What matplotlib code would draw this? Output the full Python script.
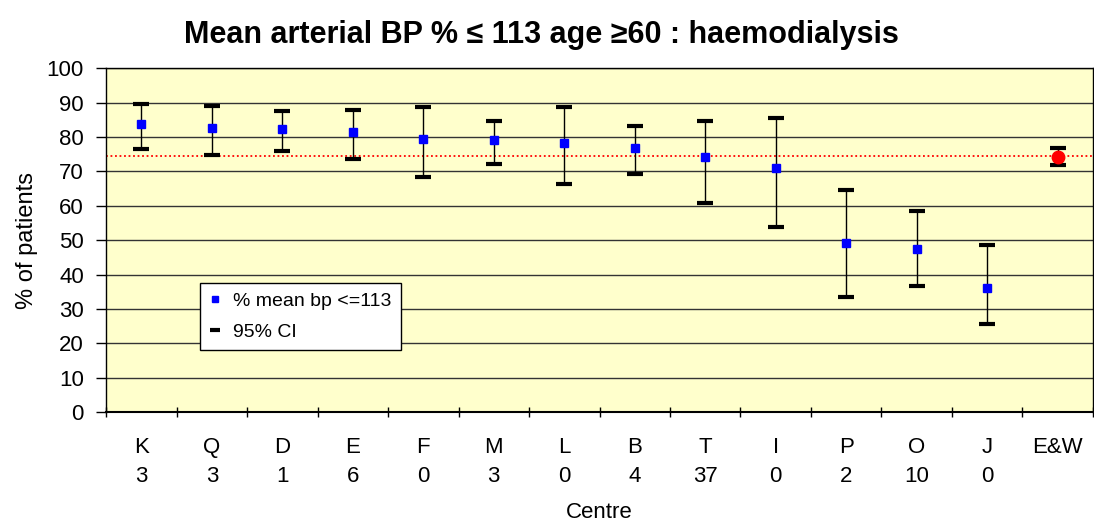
import matplotlib
matplotlib.use("Agg")
import matplotlib.pyplot as plt
from matplotlib.lines import Line2D
import numpy as np

plt.rcParams['font.family'] = ['Liberation Sans', 'DejaVu Sans']

centres = ["K", "Q", "D", "E", "F", "M", "L", "B", "T", "I", "P", "O", "J"]
counts = ["3", "3", "1", "6", "0", "3", "0", "4", "37", "0", "2", "10", "0"]
pct = [83.7, 82.6, 82.2, 81.6, 79.5, 79.0, 78.4, 76.8, 74.1, 70.9, 49.1, 47.5, 36.2]
upper = [89.7, 89.1, 87.5, 88.0, 88.6, 84.8, 88.6, 83.2, 84.8, 85.4, 64.5, 58.6, 48.5]
lower = [76.4, 74.7, 75.8, 73.6, 68.3, 72.1, 66.2, 69.3, 60.8, 53.9, 33.5, 36.7, 25.6]
ew_label = "E&W"
ew_pct = 74.1
ew_upper = 76.7
ew_lower = 72.0
ew_line = 74.4

fig = plt.figure(figsize=(10.94, 5.25), dpi=100)
ax = fig.add_axes([0.097, 0.215, 0.902, 0.655])
ax.set_facecolor("#FFFFCC")

x = np.arange(len(centres))
pct_a = np.array(pct)
yerr = [pct_a - np.array(lower), np.array(upper) - pct_a]
ax.errorbar(x, pct, yerr=yerr, fmt='none', ecolor='black', elinewidth=1.0,
            capsize=6, capthick=3, zorder=3)
ax.plot(x, pct, 's', color='#0000FF', markersize=6, zorder=4, linestyle='none')

xe = len(centres)
ax.errorbar([xe], [ew_pct], yerr=[[ew_pct - ew_lower], [ew_upper - ew_pct]], fmt='none',
            ecolor='black', elinewidth=1.0, capsize=6, capthick=3, zorder=3)
ax.plot([xe], [ew_pct], 'o', color='#FF0000', markersize=9, zorder=4)

ax.axhline(ew_line, color='#FF0000', linestyle=(0, (1, 1.5)), linewidth=1.3, zorder=2)

ax.set_ylim(0, 100)
ax.set_xlim(-0.5, xe + 0.5)
ax.set_yticks(np.arange(0, 101, 10))
ax.yaxis.grid(True, color='#333333', linewidth=1.0)
ax.set_axisbelow(True)
ax.tick_params(axis='y', labelsize=16, length=7, width=1, direction='out', pad=9)

labels = [f"{c}\n{n}" for c, n in zip(centres, counts)] + [ew_label + "\n "]
ax.set_xticks(np.arange(-0.5, xe + 1, 1.0))
ax.tick_params(axis='x', which='major', length=7, width=1, direction='inout', labelbottom=False)
ax.set_xticks(np.arange(0, xe + 1), minor=True)
ax.set_xticklabels(labels, minor=True, fontsize=16, linespacing=1.5)
ax.tick_params(axis='x', which='minor', length=0, pad=18)

for s in ax.spines.values():
    s.set_color('black')
    s.set_linewidth(1.0)
ax.spines['bottom'].set_linewidth(1.5)

ax.set_ylabel("% of patients", fontsize=17, labelpad=6)
ax.set_xlabel("Centre", fontsize=16, labelpad=11)
fig.suptitle("Mean arterial BP % ≤ 113 age ≥60 : haemodialysis", x=0.495, y=0.962,
             fontsize=22, fontweight='bold')

handles = [Line2D([], [], marker='s', color='#0000FF', linestyle='none', markersize=5),
           Line2D([], [], marker='_', color='black', linestyle='none', markersize=7,
                  markeredgewidth=3)]
leg = ax.legend(handles, ["% mean bp <=113", "95% CI"], loc='lower left',
                bbox_to_anchor=(0.095, 0.18), fontsize=14, frameon=True, fancybox=False,
                shadow=False, handlelength=0.6, handletextpad=0.6, borderpad=0.5,
                labelspacing=0.65, borderaxespad=0)
leg.get_frame().set_edgecolor('black')
leg.get_frame().set_linewidth(1.0)
leg.get_frame().set_facecolor('white')
leg.get_frame().set_alpha(1)

fig.savefig("out.png", dpi=100)
